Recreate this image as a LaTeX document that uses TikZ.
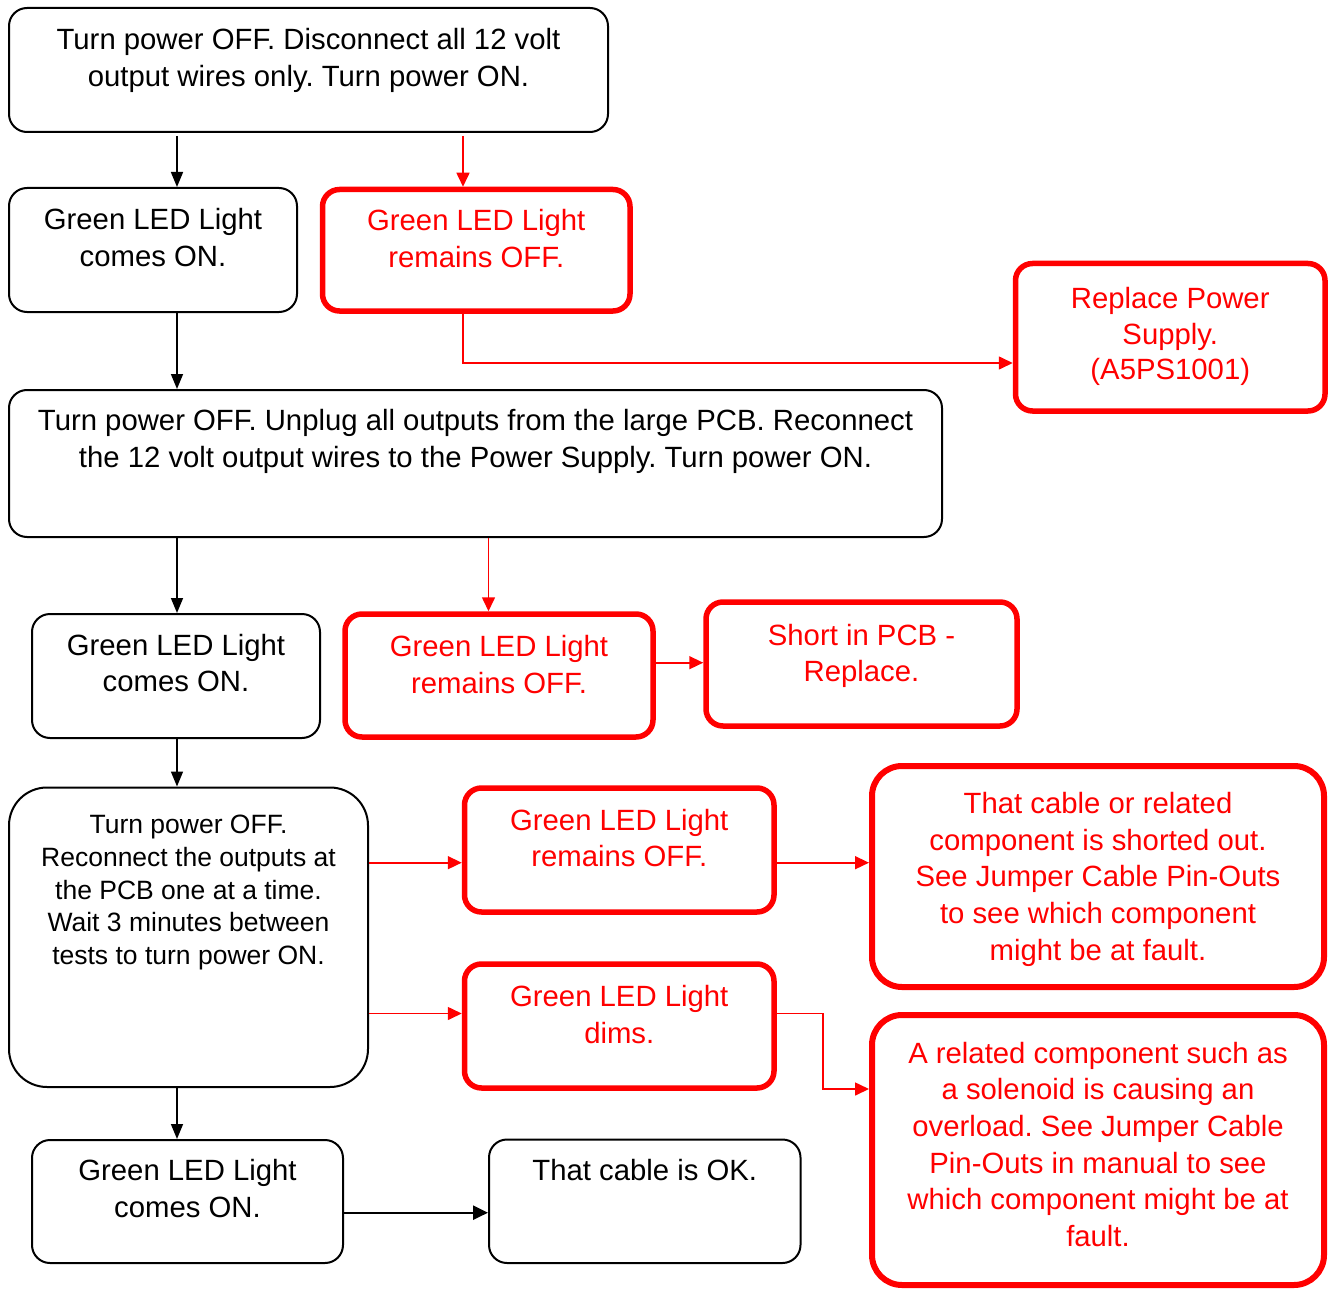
\documentclass[tikz,border=0pt]{standalone}
\usepackage{fontspec}
\setmainfont{Liberation Sans}
\usetikzlibrary{arrows.meta}
\newcommand{\tb}[4]{\parbox[c][#2pt][t]{#1pt}{\frenchspacing\centering\rule{0pt}{#3pt}#4\par}}
\begin{document}
\begin{tikzpicture}[x=1pt,y=-1pt,
  blkbox/.style={draw=black, line width=2pt, rounded corners=18pt, inner sep=0pt, text=black,
     font=\fontsize{29.3}{36.7}\selectfont},
  redbox/.style={draw=red, line width=5.5pt, rounded corners=17pt, inner sep=0pt, text=red,
     font=\fontsize{29.3}{36.7}\selectfont},
  bigred/.style={redbox, rounded corners=30pt, line width=6pt},
  blkarrow/.style={draw=black, line width=1.6pt, -{Triangle[length=15pt,width=12pt]}},
  blkthick/.style={draw=black, line width=2.4pt, -{Triangle[length=15pt,width=14pt]}},
  redarrow/.style={draw=red, line width=1.6pt, -{Triangle[length=14pt,width=13pt]}}]
\useasboundingbox (0,0) rectangle (1330,1289);

\node[blkbox] (A) at (308.5,70) {\tb{599}{124}{41.5}{Turn power OFF. Disconnect all 12 volt\\output wires only. Turn power ON.}};
\node[blkbox] (B) at (153,250) {\tb{288}{124}{41.5}{Green LED Light\\comes ON.}};
\node[redbox] (C) at (476.25,250.25) {\tb{307.5}{121.5}{41.5}{Green LED Light\\remains OFF.}};
\node[redbox, font=\fontsize{29.3}{35.5}\selectfont] (D) at (1170.25,337.25) {\tb{309.5}{147.5}{45}{Replace Power\\Supply.\\(A5PS1001)}};
\node[blkbox] (E) at (475.5,463.5) {\tb{933}{147}{40.5}{Turn power OFF. Unplug all outputs from the large PCB. Reconnect\\the 12 volt output wires to the Power Supply. Turn power ON.}};
\node[blkbox] (F) at (176,676) {\tb{288}{124}{41}{Green LED Light\\comes ON.}};
\node[redbox] (G) at (499,675.5) {\tb{308}{123}{42.5}{Green LED Light\\remains OFF.}};
\node[redbox] (H) at (861.5,664) {\tb{311}{124}{43}{Short in PCB -\\Replace.}};
\node[blkbox, rounded corners=38pt, font=\fontsize{26.5}{32.8}\selectfont] (I) at (188.5,937.25) {\tb{359}{299.5}{46}{Turn power OFF.\\Reconnect the outputs at\\the PCB one at a time.\\Wait 3 minutes between\\tests to turn power ON.}};
\node[redbox] (J) at (619.25,850) {\tb{309.5}{124}{42}{Green LED Light\\remains OFF.}};
\node[bigred] (K) at (1098,876.5) {\tb{452}{221}{47.5}{That cable or related\\component is shorted out.\\See Jumper Cable Pin-Outs\\to see which component\\might be at fault.}};
\node[redbox] (L) at (619.25,1026) {\tb{309.5}{124}{42.5}{Green LED Light\\dims.}};
\node[bigred] (M) at (1098,1150) {\tb{452}{270}{48}{A related component such as\\a solenoid is causing an\\overload. See Jumper Cable\\Pin-Outs in manual to see\\which component might be at\\fault.}};
\node[blkbox] (N) at (187.5,1201.5) {\tb{311}{123}{40.5}{Green LED Light\\comes ON.}};
\node[blkbox] (O) at (644.75,1201.25) {\tb{311.5}{123.5}{41}{That cable is OK.}};

\coordinate (xa) at (177,0);
\coordinate (xc) at (463,0);
\coordinate (xg) at (488.5,0);
\coordinate (xlm) at (822.7,0);
\coordinate (yc) at (0,363);
\coordinate (yg) at (0,662.7);
\coordinate (yj) at (0,862.7);
\coordinate (yl) at (0,1013.5);
\coordinate (ylm) at (0,1089);
\coordinate (yn) at (0,1212.7);

\draw[blkarrow, shorten <=3pt] (A.south -| xa) -- (B.north -| xa);
\draw[redarrow, shorten <=3pt] (A.south -| xc) -- (C.north -| xc);
\draw[blkarrow] (B.south -| xa) -- (E.north -| xa);
\draw[redarrow] (C.south -| xc) |- (D.west |- yc);
\draw[blkarrow] (E.south -| xa) -- (F.north -| xa);
\draw[redarrow] (E.south -| xg) -- (G.north -| xg);
\draw[redarrow] (G.east |- yg) -- (H.west |- yg);
\draw[blkarrow] (F.south -| xa) -- (I.north -| xa);
\draw[redarrow] (I.east |- yj) -- (J.west |- yj);
\draw[redarrow] (J.east |- yj) -- (K.west |- yj);
\draw[redarrow] (I.east |- yl) -- (L.west |- yl);
\draw[redarrow] (L.east |- yl) -| (xlm |- ylm) -- (M.west |- ylm);
\draw[blkarrow] (I.south -| xa) -- (N.north -| xa);
\draw[blkthick] (N.east |- yn) -- (O.west |- yn);
\end{tikzpicture}
\end{document}
